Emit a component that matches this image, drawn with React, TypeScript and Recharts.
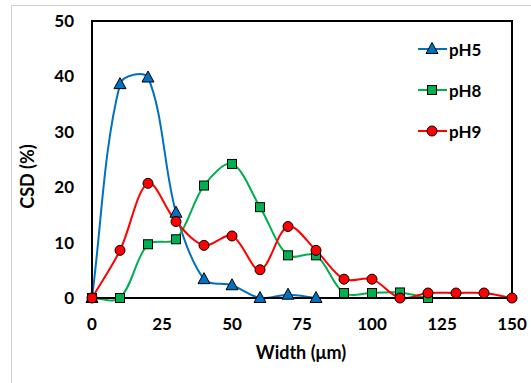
import { Legend, Line, LineChart, ReferenceArea, XAxis, YAxis } from "recharts";

const widths = [0, 10, 20, 30, 40, 50, 60, 70, 80, 90, 100, 110, 120, 130, 140, 150];
const ph5 = [0, 38.6, 39.8, 15.4, 3.4, 2.3, 0, 0.6, 0];
const ph8 = [0, 0, 9.7, 10.6, 20.3, 24.2, 16.4, 7.7, 7.7, 0.9, 0.9, 1.0, 0];
const ph9 = [0, 8.6, 20.7, 13.8, 9.5, 11.2, 5.1, 12.9, 8.6, 3.4, 3.4, 0, 0.9, 0.9, 0.9, 0];
const xTicks = [0, 25, 50, 75, 100, 125, 150];
const yTicks = [0, 10, 20, 30, 40, 50];

const BLUE = "#0070C0";
const GREEN = "#00B050";
const RED = "#FF0000";
const FONT = "Lato, 'Open Sans', sans-serif";

const data = widths.map((x, i) => ({
  x,
  pH5: i < ph5.length ? ph5[i] : null,
  pH8: i < ph8.length ? ph8[i] : null,
  pH9: i < ph9.length ? ph9[i] : null,
}));

// Excel-style smoothed line: bezier, control arms scaled by segment lengths
function excelCurve(context: any) {
  let pts: number[][] = [];
  const dist = (a: number[], b: number[]) => Math.hypot(b[0] - a[0], b[1] - a[1]);
  return {
    areaStart() {},
    areaEnd() {},
    lineStart() {
      pts = [];
    },
    point(x: number, y: number) {
      pts.push([+x, +y]);
    },
    lineEnd() {
      const n = pts.length;
      if (!n) return;
      context.moveTo(pts[0][0], pts[0][1]);
      for (let i = 0; i < n - 1; i++) {
        const p0 = pts[Math.max(i - 1, 0)];
        const p1 = pts[i];
        const p2 = pts[i + 1];
        const p3 = pts[Math.min(i + 2, n - 1)];
        const d01 = dist(p0, p1);
        const d12 = dist(p1, p2);
        const d23 = dist(p2, p3);
        const a = d01 + d12 > 0 ? d12 / (d01 + d12) / 3 : 0;
        const b = d12 + d23 > 0 ? d12 / (d12 + d23) / 3 : 0;
        context.bezierCurveTo(
          p1[0] + (p2[0] - p0[0]) * a,
          p1[1] + (p2[1] - p0[1]) * a,
          p2[0] - (p3[0] - p1[0]) * b,
          p2[1] - (p3[1] - p1[1]) * b,
          p2[0],
          p2[1]
        );
      }
    },
  };
}

function Marker({ shape, cx, cy, fill }: { shape: string; cx: number; cy: number; fill: string }) {
  if (cx == null || cy == null || isNaN(cx) || isNaN(cy)) return null;
  if (shape === "triangle") {
    return (
      <path
        d={`M${cx},${cy - 6.5}L${cx + 6},${cy + 4.5}L${cx - 6},${cy + 4.5}Z`}
        fill={fill}
        stroke="#000"
        strokeWidth={1}
      />
    );
  }
  if (shape === "square") {
    return <rect x={cx - 4.5} y={cy - 4.5} width={9} height={9} fill={fill} stroke="#000" strokeWidth={1} />;
  }
  return <circle cx={cx} cy={cy} r={5} fill={fill} stroke="#000" strokeWidth={1} />;
}

const dotFor = (shape: string, fill: string) => (p: any) =>
  <Marker key={`${shape}-${p.index}`} shape={shape} cx={p.cx} cy={p.value == null ? NaN : p.cy} fill={fill} />;

const legendItems = [
  { name: "pH5", color: BLUE, shape: "triangle" },
  { name: "pH8", color: GREEN, shape: "square" },
  { name: "pH9", color: RED, shape: "circle" },
];

function LegendBox() {
  return (
    <svg width={80} height={110}>
      {legendItems.map((it, i) => {
        const y = 11 + i * 41;
        return (
          <g key={it.name}>
            <line x1={0} x2={29} y1={y} y2={y} stroke={it.color} strokeWidth={2} />
            <Marker shape={it.shape} cx={14} cy={y} fill={it.color} />
            <text x={31} y={y} dominantBaseline="central" fontFamily={FONT} fontWeight={700} fontSize={17} fill="#000">
              {it.name}
            </text>
          </g>
        );
      })}
    </svg>
  );
}

const tickStyle = { fill: "#000", fontSize: 17, fontWeight: 700, fontFamily: FONT };

export default function App() {
  return (
    <div style={{ position: "relative", width: 531, height: 383, overflow: "hidden", background: "#fff" }}>
      <style>{"body{margin:0}"}</style>
      <div
        style={{
          position: "absolute",
          left: 11,
          top: 5,
          width: 600,
          height: 500,
          border: "1px solid #d0d0d0",
        }}
      />
      <div style={{ position: "absolute", left: 0, top: 0 }}>
        <LineChart width={531} height={383} data={data} margin={{ top: 21, right: 19, left: 0, bottom: 0 }}>
          <XAxis
            dataKey="x"
            type="number"
            domain={[0, 150]}
            ticks={xTicks}
            tickLine={false}
            tickSize={0}
            tickMargin={20}
            height={85}
            axisLine={{ stroke: "#000", strokeWidth: 2 }}
            tick={tickStyle}
            label={(props: any) => {
              const vb = props.viewBox;
              return (
                <text
                  x={vb.x + vb.width / 2 - 1}
                  y={vb.y + 53.5}
                  textAnchor="middle"
                  dominantBaseline="central"
                  fontFamily={FONT}
                  fontWeight={700}
                  fontSize={18}
                  fill="#000"
                >
                  Width (μm)
                </text>
              );
            }}
          />
          <YAxis
            type="number"
            domain={[0, 50]}
            ticks={yTicks}
            tickLine={false}
            tickSize={0}
            tickMargin={18}
            width={92}
            axisLine={{ stroke: "#000", strokeWidth: 2 }}
            tick={tickStyle}
            label={(props: any) => {
              const vb = props.viewBox;
              const cx = vb.x + 27;
              const cy = vb.y + vb.height / 2 + 17;
              return (
                <text
                  x={cx}
                  y={cy}
                  transform={`rotate(-90, ${cx}, ${cy})`}
                  textAnchor="middle"
                  dominantBaseline="central"
                  fontFamily={FONT}
                  fontWeight={700}
                  fontSize={18}
                  fill="#000"
                >
                  CSD (%)
                </text>
              );
            }}
          />
          <ReferenceArea x1={0} x2={150} y1={0} y2={50} fill="none" stroke="#000" strokeWidth={2} fillOpacity={0} />
          <Legend
            layout="vertical"
            align="center"
            verticalAlign="middle"
            wrapperStyle={{ left: 418, top: 38, width: 80, height: 110 }}
            content={() => <LegendBox />}
          />
          <Line
            dataKey="pH5"
            type={excelCurve as any}
            stroke={BLUE}
            strokeWidth={2}
            dot={dotFor("triangle", BLUE)}
            activeDot={false}
            isAnimationActive={false}
          />
          <Line
            dataKey="pH8"
            type={excelCurve as any}
            stroke={GREEN}
            strokeWidth={2}
            dot={dotFor("square", GREEN)}
            activeDot={false}
            isAnimationActive={false}
          />
          <Line
            dataKey="pH9"
            type={excelCurve as any}
            stroke={RED}
            strokeWidth={2}
            dot={dotFor("circle", RED)}
            activeDot={false}
            isAnimationActive={false}
          />
        </LineChart>
      </div>
    </div>
  );
}
